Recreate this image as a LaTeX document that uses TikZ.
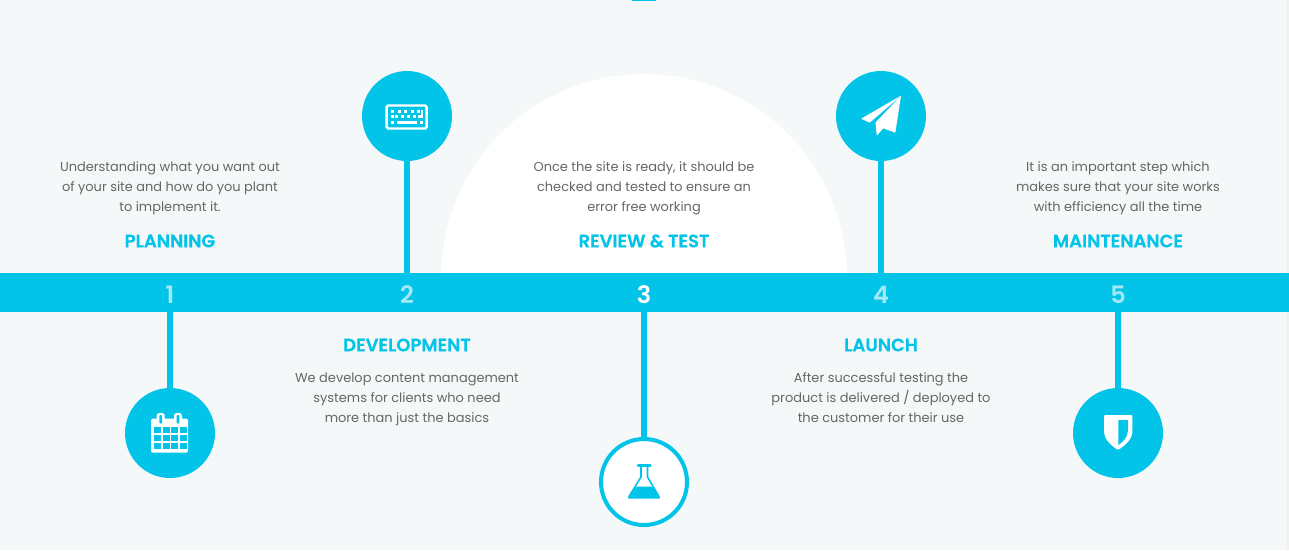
\documentclass[tikz,border=0pt]{standalone}
\usepackage{fontspec}
\setmainfont{Poppins}[BoldFont={Poppins SemiBold},BoldFeatures={FakeBold=0.35}]
\newfontfamily\digitfont{Poppins SemiBold}
\definecolor{cy}{HTML}{02C3E8}
\definecolor{bg}{HTML}{F4F8F9}
\definecolor{body}{HTML}{666666}
\definecolor{num}{HTML}{A6E9F6}
\tikzset{
  bubble/.style={circle,fill=cy,minimum size=90pt,inner sep=0pt},
  bubbleline/.style={circle,fill=white,draw=cy,line width=4pt,minimum size=86pt,inner sep=0pt},
  stem/.style={cy,line width=6pt},
  para/.style={align=center,text=body,font=\fontsize{12.95}{20}\selectfont,inner sep=0pt},
  head/.style={text=cy,font=\fontsize{18}{20}\selectfont\bfseries,inner sep=0pt},
  digit/.style={font=\fontsize{24}{24}\selectfont\digitfont,text=num,inner sep=0pt}
}
\begin{document}
\begin{tikzpicture}[x=1pt,y=-1pt]
\useasboundingbox (0,0) rectangle (1289,550);
\fill[bg] (0,0) rectangle (1289,550);
\fill[black!6] (1287,0) rectangle (1289,550);
\fill[cy] (632,0) rectangle (656,1.2);
% white dome
\begin{scope}
\clip (0,0) rectangle (1289,274);
\fill[white] (644,277) circle (203);
\end{scope}
% bar
\node[fill=cy,minimum width=1289pt,minimum height=39pt,inner sep=0pt,outer sep=0pt,anchor=north west] (bar) at (0,273) {};
% bubbles
\node[bubble] (c1) at (170,433) {};
\node[bubble] (c2) at (407,116) {};
\node[bubbleline] (c3) at (644,482) {};
\node[bubble] (c4) at (881,116) {};
\node[bubble] (c5) at (1118,433) {};
% stems
\draw[stem] (c1.north) -- (c1.north |- bar.south);
\draw[stem] (c2.south) -- (c2.south |- bar.north);
\draw[stem] (c3.north) -- (c3.north |- bar.south);
\draw[stem] (c4.south) -- (c4.south |- bar.north);
\draw[stem] (c5.north) -- (c5.north |- bar.south);
% digits
\node[digit] (n1) at (170,295) {1};
\node[digit] (n2) at (407,295) {2};
\node[digit,text=white] (n3) at (644,295) {3};
\node[digit] (n4) at (881,295) {4};
\node[digit] (n5) at (1118,295) {5};
% headings
\node[head] (h1) at (170,241) {PLANNING};
\node[head] (h2) at (407,345) {DEVELOPMENT};
\node[head] (h3) at (644,241) {REVIEW \& TEST};
\node[head] (h4) at (881,345) {LAUNCH};
\node[head] (h5) at (1118,241) {MAINTENANCE};
% paragraphs
\node[para] (p1) at (170,188) {Understanding what you want out\\of your site and how do you plant\\to implement it.};
\node[para] (p2) at (407,399) {We develop content management\\systems for clients who need\\more than just the basics};
\node[para] (p3) at (644,188) {Once the site is ready, it should be\\checked and tested to ensure an\\error free working};
\node[para] (p4) at (881,398) {After successful testing the\\product is delivered / deployed to\\the customer for their use};
\node[para] (p5) at (1118,188) {It is an important step which\\makes sure that your site works\\with efficiency all the time};
% calendar
\fill[white,rounded corners=1.5pt] (151,418.5) rectangle (188,452.5);
\foreach \x in {160.7,178}{
  \fill[white,rounded corners=2.5pt] (\x-4,413) rectangle (\x+4,422);
  \fill[cy,rounded corners=1pt] (\x-1.4,415) rectangle (\x+1.4,423.5);
}
\foreach \i in {0,1,2,3}\foreach \j in {0,1,2}{
  \fill[cy] (154+\i*8.6,427+\j*7.8) rectangle +(6.9,6.2);
}
% keyboard
\draw[white,line width=2.4pt,rounded corners=1.5pt] (386.6,105.5) rectangle (426.6,128.5);
\foreach \x in {391,397.5,404,410.5,417}{\fill[white] (\x,109.7) rectangle +(3,2.8);}
\fill[white] (421,109.7) rectangle (423.3,117.2);
\foreach \x in {391,395,401,407,413}{\fill[white] (\x,115) rectangle +(3,2.8);}
\fill[white] (418,115) rectangle +(5.3,2.8);
\fill[white] (391,120.7) rectangle +(3,2.8);
\fill[white] (397,120.7) rectangle +(20,2.8);
\fill[white] (420.3,120.7) rectangle +(3,2.8);
% flask
\draw[cy,line width=1.6pt,line join=round] (641,466) -- (641,477) -- (629,496.5) -- (659,496.5) -- (647.5,477) -- (647.5,466);
\draw[cy,line width=2.2pt,line cap=round] (638,465.4) -- (650.5,465.4);
\fill[cy,rounded corners=1.2pt] (635.5,486.5) -- (652.5,486.5) -- (660.6,498.6) -- (627.4,498.6) -- cycle;
% plane
\fill[white,rounded corners=.6pt] (861,118.7) -- (901,95.7) -- (869.7,122.7) -- cycle;
\fill[white,rounded corners=.6pt] (901,95.7) -- (895.3,132.7) -- (883.3,128.3) -- (876.7,135.7) -- (875.5,122.5) -- cycle;
% shield
\fill[white,rounded corners=1pt] (1104,415) -- (1132.4,415) -- (1132.4,430) .. controls (1132.4,440) and (1124,446) .. (1118,450) .. controls (1112,446) and (1104,440) .. (1104,430) -- cycle;
\fill[cy] (1118.4,420) -- (1128,420) -- (1128,430) .. controls (1128,437) and (1123,442) .. (1118.4,445) -- cycle;
\end{tikzpicture}
\end{document}
